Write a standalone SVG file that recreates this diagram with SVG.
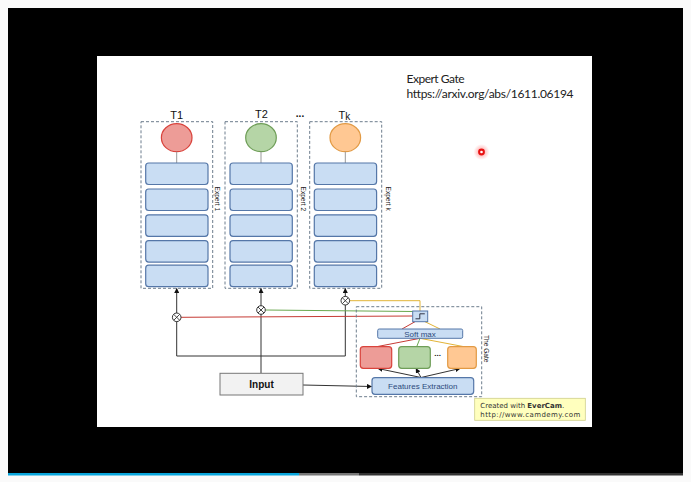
<svg xmlns="http://www.w3.org/2000/svg" width="691" height="482" viewBox="0 0 691 482">
<defs>
<style>
.dash{fill:none;stroke:#6d7d8d;stroke-width:1;stroke-dasharray:3 2}
.layer{fill:#c9ddf3;stroke:#5577a8;stroke-width:1.2}
.conn{fill:none;stroke:#333;stroke-width:1}
.stem{fill:none;stroke:#999;stroke-width:1}
.mul{fill:#fff;stroke:#333;stroke-width:1}
.lbl{font-family:"Liberation Sans",Arial,sans-serif;fill:#111}
.rot{font-family:"Liberation Sans",Arial,sans-serif;font-size:6.6px;fill:#222}
.gtxt{font-family:"Liberation Sans",Arial,sans-serif;font-size:8px;fill:#2c4a7c;text-anchor:middle}
</style>
<marker id="ah" viewBox="0 0 10 10" refX="9" refY="5" markerWidth="5" markerHeight="5" markerUnits="userSpaceOnUse" orient="auto">
<path d="M0 0 L10 5 L0 10 Z" fill="#111"/>
</marker>
<radialGradient id="glow">
<stop offset="0" stop-color="#ff3030" stop-opacity="0.5"/>
<stop offset="1" stop-color="#ff3030" stop-opacity="0"/>
</radialGradient>
</defs>
<rect x="0" y="0" width="691" height="482" fill="#fafafa"/>
<rect x="8" y="8" width="675" height="466" fill="#000"/>
<rect x="8" y="473" width="291" height="2.5" fill="#0aa6dc"/>
<rect x="299" y="473" width="60" height="2.5" fill="#777"/>
<rect x="359" y="473" width="324" height="2.5" fill="#333"/>
<rect x="97" y="56" width="495" height="371" fill="#fff"/>

<g id="title">
<text x="406.5" y="83" font-family="Lato,'Open Sans',sans-serif" font-size="12px" fill="#222" textLength="58">Expert Gate</text>
<text x="406.5" y="97.5" font-family="Lato,'Open Sans',sans-serif" font-size="12px" fill="#222" textLength="167">https://arxiv.org/abs/1611.06194</text>
</g>

<g id="laser">
<circle cx="481.5" cy="152" r="8" fill="url(#glow)"/>
<circle cx="481.5" cy="152" r="3.4" fill="#e81010"/>
<circle cx="481.5" cy="152" r="1.3" fill="#fff"/>
</g>

<g id="expert1">
<rect class="dash" x="141" y="121.7" width="71.7" height="166.6"/>
<text class="lbl" x="176.7" y="119" font-size="11px" text-anchor="middle">T1</text>
<ellipse cx="176.7" cy="137.7" rx="15.3" ry="14" fill="#ed9c97" stroke="#d9433c" stroke-width="1.2"/>
<line class="stem" x1="176.7" y1="151.7" x2="176.7" y2="163"/>
<rect class="layer" x="145.7" y="163" width="62.3" height="21.5" rx="3"/>
<rect class="layer" x="145.7" y="189" width="62.3" height="21.5" rx="3"/>
<rect class="layer" x="145.7" y="214.8" width="62.3" height="21.5" rx="3"/>
<rect class="layer" x="145.7" y="240.6" width="62.3" height="21.5" rx="3"/>
<rect class="layer" x="145.7" y="265.2" width="62.3" height="21.5" rx="3"/>
<text class="rot" transform="translate(214.5,186.5) rotate(90)">Expert 1</text>
</g>

<g id="expert2">
<rect class="dash" x="225" y="121.7" width="72.3" height="166.6"/>
<text class="lbl" x="261.5" y="117.5" font-size="11px" text-anchor="middle">T2</text>
<ellipse cx="261" cy="137.7" rx="15.3" ry="14" fill="#b5d5a6" stroke="#6f9e58" stroke-width="1.2"/>
<line class="stem" x1="261" y1="151.7" x2="261" y2="163"/>
<rect class="layer" x="230" y="163" width="62.3" height="21.5" rx="3"/>
<rect class="layer" x="230" y="189" width="62.3" height="21.5" rx="3"/>
<rect class="layer" x="230" y="214.8" width="62.3" height="21.5" rx="3"/>
<rect class="layer" x="230" y="240.6" width="62.3" height="21.5" rx="3"/>
<rect class="layer" x="230" y="265.2" width="62.3" height="21.5" rx="3"/>
<text class="rot" transform="translate(301,186.5) rotate(90)">Expert 2</text>
</g>

<text class="lbl" x="300" y="117" font-size="10px" text-anchor="middle" font-weight="bold">...</text>

<g id="expertk">
<rect class="dash" x="309.7" y="121.7" width="72" height="166.6"/>
<text class="lbl" x="338.5" y="119" font-size="11px">T<tspan font-size="10px" dy="0.6">k</tspan></text>
<ellipse cx="345.3" cy="137.7" rx="15.3" ry="14" fill="#ffc893" stroke="#e29a44" stroke-width="1.2"/>
<line class="stem" x1="345.3" y1="151.7" x2="345.3" y2="163"/>
<rect class="layer" x="314.3" y="163" width="62.3" height="21.5" rx="3"/>
<rect class="layer" x="314.3" y="189" width="62.3" height="21.5" rx="3"/>
<rect class="layer" x="314.3" y="214.8" width="62.3" height="21.5" rx="3"/>
<rect class="layer" x="314.3" y="240.6" width="62.3" height="21.5" rx="3"/>
<rect class="layer" x="314.3" y="265.2" width="62.3" height="21.5" rx="3"/>
<text class="rot" transform="translate(385.5,186.5) rotate(90)">Expert k</text>
</g>

<g id="connectors">
<path class="conn" d="M176.7 356 V288.5" marker-end="url(#ah)"/>
<path class="conn" d="M261 373.3 V288.5" marker-end="url(#ah)"/>
<path class="conn" d="M345.3 356 V288.5" marker-end="url(#ah)"/>
<path class="conn" d="M176.7 356 H345.3"/>
<path class="conn" d="M303 385 L371.5 386.5" marker-end="url(#ah)"/>
<path class="conn" d="M421 377.5 L378 368.5" marker-end="url(#ah)"/>
<path class="conn" d="M421 377.5 L416 368.5" marker-end="url(#ah)"/>
<path class="conn" d="M421 377.5 L460 368.5" marker-end="url(#ah)"/>
<path fill="none" stroke="#c63a34" stroke-width="1" d="M412.7 316 L181 317.3"/>
<path fill="none" stroke="#6aa84f" stroke-width="1" d="M413 311.5 L265.3 310"/>
<path fill="none" stroke="#e2b437" stroke-width="1" d="M349.6 300.7 H420 V311"/>
<path fill="none" stroke="#c63a34" stroke-width="1" d="M402 329 L415 321.7"/>
<path fill="none" stroke="#e2b437" stroke-width="1" d="M440 329 L425 321.7"/>
<path fill="none" stroke="#c63a34" stroke-width="1" d="M376.7 346.7 L420 338.3"/>
<path fill="none" stroke="#6aa84f" stroke-width="1" d="M416.7 346.7 L420 338.3"/>
<path fill="none" stroke="#e2b437" stroke-width="1" d="M464 346.7 L420 338.3"/>
</g>

<g id="mult1">
<circle class="mul" cx="176.7" cy="317.3" r="4.3"/>
<path stroke="#333" stroke-width="0.9" d="M173.7 314.3 L179.7 320.3 M179.7 314.3 L173.7 320.3"/>
</g>
<g id="mult2">
<circle class="mul" cx="261" cy="310" r="4.3"/>
<path stroke="#333" stroke-width="0.9" d="M258 307 L264 313 M264 307 L258 313"/>
</g>
<g id="multk">
<circle class="mul" cx="345.3" cy="300.7" r="4.3"/>
<path stroke="#333" stroke-width="0.9" d="M342.3 297.7 L348.3 303.7 M348.3 297.7 L342.3 303.7"/>
</g>

<g id="input">
<rect x="220" y="373.3" width="83" height="21.7" fill="#f2f2f2" stroke="#777" stroke-width="1"/>
<text class="lbl" x="261.5" y="387.5" font-size="10px" font-weight="bold" text-anchor="middle">Input</text>
</g>

<g id="gate">
<rect class="dash" x="356.3" y="306.7" width="125.4" height="90"/>
<text class="rot" transform="translate(483.5,335) rotate(90)">The Gate</text>
</g>
<g id="step">
<rect x="412.7" y="311" width="15" height="10.7" fill="#c9ddf3" stroke="#5577a8" stroke-width="1"/>
<path fill="none" stroke="#223" stroke-width="0.9" d="M415.5 318.8 H419.8 V313.8 H424.8"/>
</g>
<g id="softmax">
<rect x="377.7" y="329" width="85" height="9.3" fill="#c9ddf3" stroke="#5577a8" stroke-width="1" rx="1.5"/>
<text class="gtxt" x="420" y="336.6">Soft max</text>
</g>
<g id="gate-red">
<rect x="360.3" y="346.7" width="31.4" height="21.6" rx="3" fill="#ed9c97" stroke="#d9433c" stroke-width="1.2"/>
</g>
<g id="gate-green">
<rect x="398.7" y="346.7" width="31.6" height="21.6" rx="3" fill="#b5d5a6" stroke="#6f9e58" stroke-width="1.2"/>
</g>
<text class="lbl" x="437.7" y="356" font-size="8px" text-anchor="middle" font-weight="bold">...</text>
<g id="gate-orange">
<rect x="447.7" y="346.7" width="28.6" height="21.6" rx="3" fill="#ffc893" stroke="#e29a44" stroke-width="1.2"/>
</g>
<g id="features">
<rect x="372" y="377.7" width="101.7" height="16.6" rx="3" fill="#c9ddf3" stroke="#5577a8" stroke-width="1.2"/>
<text class="gtxt" x="422.8" y="389">Features Extraction</text>
</g>

<g id="watermark">
<rect x="474.7" y="398.3" width="110.6" height="22" fill="#ffffbe" stroke="#cfcf8a" stroke-width="0.8"/>
<text x="480.3" y="407.5" font-family="'DejaVu Sans',Verdana,sans-serif" font-size="7px" fill="#333">Created with <tspan font-weight="bold">EverCam</tspan>.</text>
<text x="480.3" y="416.8" font-family="'DejaVu Sans',Verdana,sans-serif" font-size="7px" fill="#333" textLength="100">http://www.camdemy.com</text>
</g>
</svg>
